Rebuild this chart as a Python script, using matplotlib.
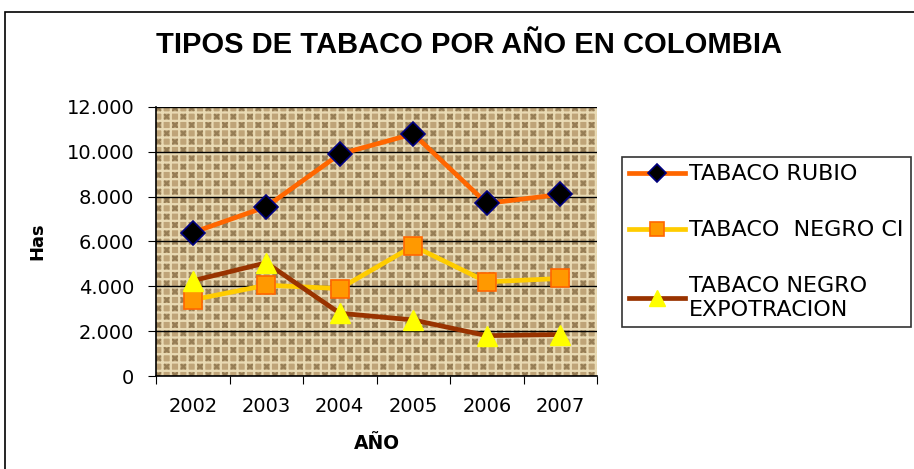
import matplotlib.pyplot as plt
from matplotlib.patches import Rectangle
from matplotlib.ticker import FuncFormatter

years = ["2002", "2003", "2004", "2005", "2006", "2007"]
rubio = [6400, 7550, 9900, 10800, 7700, 8100]
negro_ci = [3400, 4050, 3900, 5800, 4200, 4350]
negro_exp = [4250, 5050, 2800, 2500, 1800, 1850]

plt.rcParams['font.family'] = ['DejaVu Sans']
plt.rcParams['hatch.linewidth'] = 1.6

fig = plt.figure(figsize=(9.14, 4.69), dpi=100)
fig.patches.append(Rectangle((5 / 914, -0.1), 1.2, 1 - 12 / 469 + 0.1,
                             transform=fig.transFigure, fill=False,
                             edgecolor='black', linewidth=1.2))

ax = fig.add_axes([156 / 914, 1 - 376 / 469, 441 / 914, 269 / 469])
# burlap-ish texture
ax.set_facecolor('#BFA478')
ax.add_patch(Rectangle((0, 0), 1, 1, transform=ax.transAxes, facecolor='none',
                       edgecolor='#E9DAB4', hatch='++', linewidth=0, zorder=0.5))
ax.add_patch(Rectangle((0, 0), 1, 1, transform=ax.transAxes, facecolor='none',
                       edgecolor='#6E5734', hatch='xx', linewidth=0, zorder=0.4, alpha=0.5))

x = range(len(years))
ax.plot(x, rubio, color='#FF6600', linewidth=3.4, marker='D', markersize=12,
        markerfacecolor='black', markeredgecolor='#000080', markeredgewidth=1.2,
        label='TABACO RUBIO', zorder=4)
ax.plot(x, negro_ci, color='#FFCC00', linewidth=3.4, marker='s', markersize=13,
        markerfacecolor='#FF9900', markeredgecolor='#FF6600', markeredgewidth=1.2,
        label='TABACO  NEGRO CI', zorder=3)
ax.plot(x, negro_exp, color='#993300', linewidth=3.4, marker='^', markersize=15,
        markerfacecolor='#FFFF00', markeredgecolor='#FFFF00',
        label='TABACO NEGRO\nEXPOTRACION', zorder=3)

ax.set_xlim(-0.5, 5.5)
ax.set_ylim(0, 12000)
ax.set_yticks(range(0, 12001, 2000))
ax.yaxis.set_major_formatter(FuncFormatter(lambda v, p: f"{int(v):,}".replace(",", ".")))
ax.yaxis.grid(True, color='black', linewidth=1)
ax.set_axisbelow(False)
ax.set_xticks([i - 0.5 for i in range(7)])
ax.set_xticklabels([])
ax.set_xticks(list(x), minor=True)
ax.set_xticklabels(years, minor=True)
ax.tick_params(axis='x', which='minor', length=0, pad=15, labelsize=14)
ax.tick_params(axis='x', which='major', length=6, direction='out')
ax.tick_params(axis='y', length=6, direction='out', labelsize=14, pad=9.5)
for s in ['top', 'right']:
    ax.spines[s].set_visible(False)
for s in ['left', 'bottom']:
    ax.spines[s].set_linewidth(1.2)

ax.set_xlabel('AÑO', fontsize=13.5, fontweight='bold', labelpad=13)
ax.set_ylabel('Has', fontsize=13, fontweight='bold', labelpad=15)
fig.text(469 / 914, 1 - 45 / 469, 'TIPOS DE TABACO POR AÑO EN COLOMBIA',
         ha='center', va='center', fontsize=21, fontweight='bold',
         family='Liberation Sans')

leg = fig.legend(loc='upper left', bbox_to_anchor=(622 / 914, 1 - 157 / 469),
                 frameon=True, fancybox=False, edgecolor='black', fontsize=16,
                 handlelength=2.5, labelspacing=1.62, borderpad=0.33,
                 handletextpad=0.18, borderaxespad=0, markerscale=0.75)
leg.get_frame().set_linewidth(1.2)

fig.savefig('out.png', dpi=100)
